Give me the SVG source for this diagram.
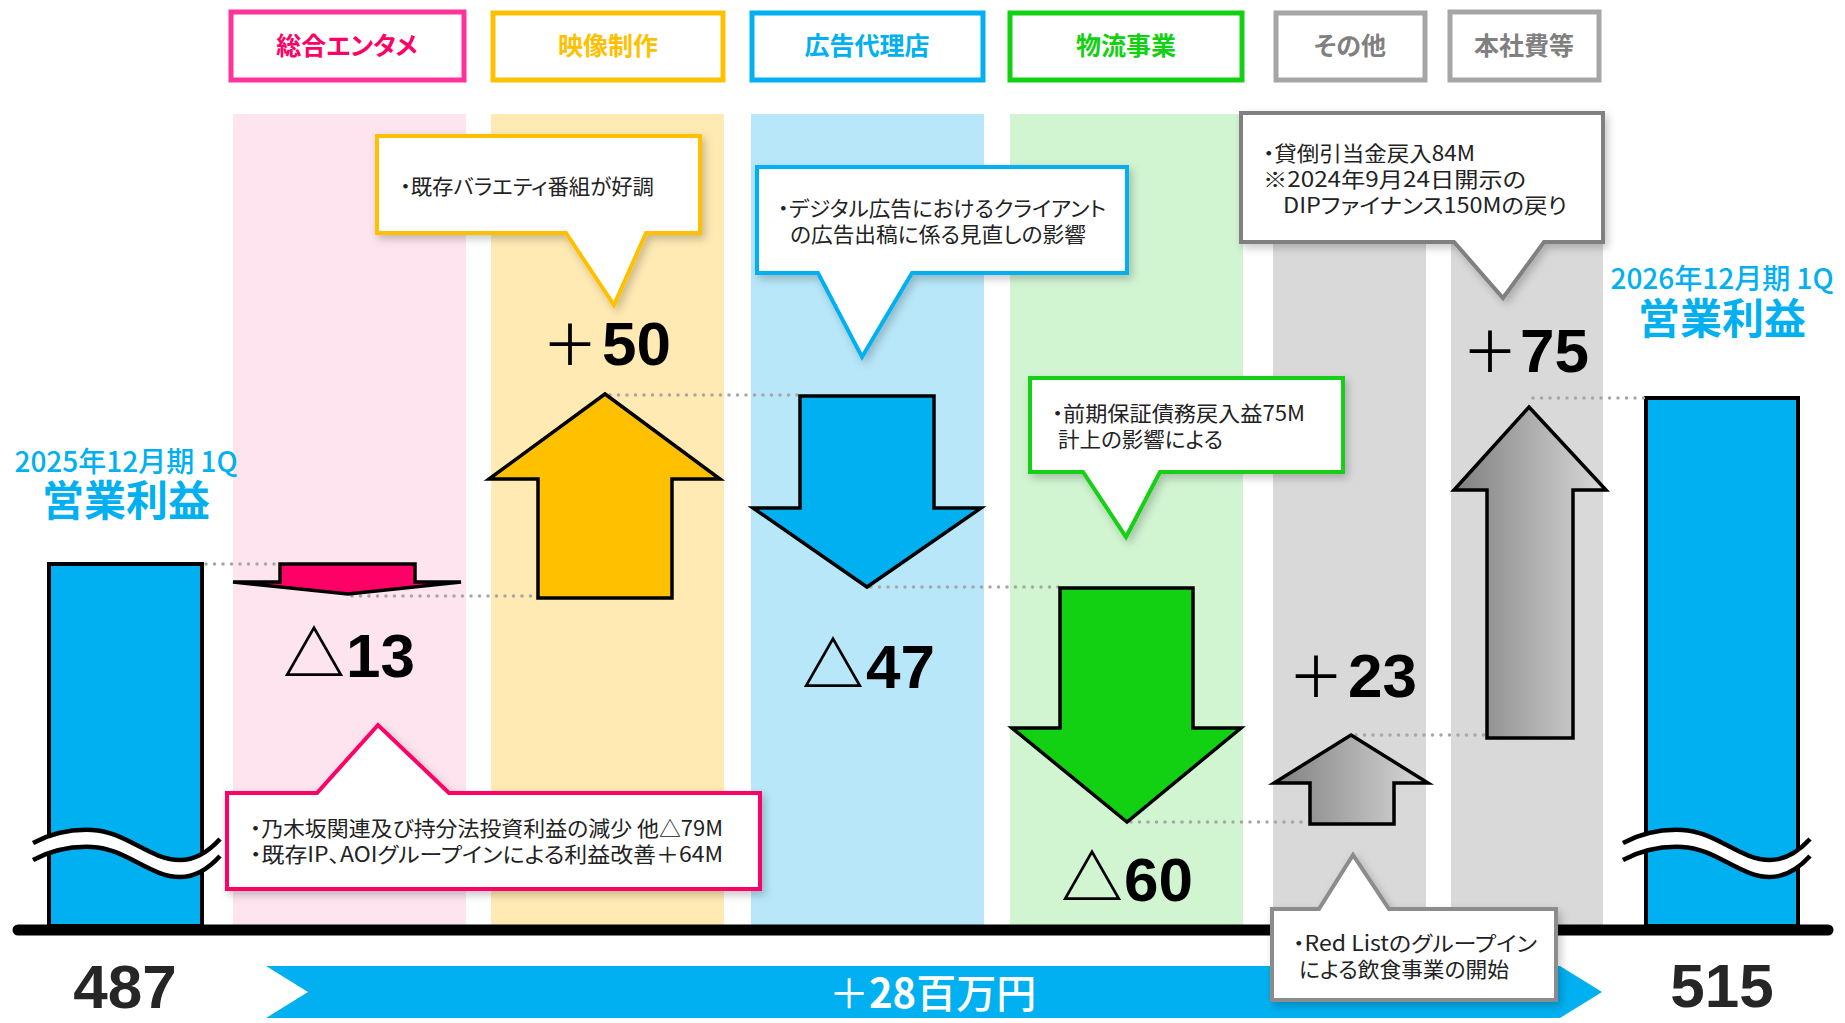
<svg xmlns="http://www.w3.org/2000/svg" width="1845" height="1023" viewBox="0 0 1845 1023">
<defs>
<style>
.cj{font-family:'Noto Sans CJK JP','Noto Sans',sans-serif;font-feature-settings:"palt" 1}
.num{font-family:'Liberation Sans','Noto Sans CJK JP',sans-serif;font-weight:700;font-size:62px;fill:#000}
.sym{font-family:'Noto Sans CJK JP',sans-serif;font-weight:400}
.tri{font-family:'Noto Sans CJK JP',sans-serif;font-weight:700}
.arrow{stroke:#000;stroke-width:3.5;stroke-linejoin:miter}
.dot{stroke:#A6A6A6;stroke-width:3.5;stroke-linecap:round;stroke-dasharray:0 8.5;fill:none}
.call{fill:#fff;stroke-width:4;filter:url(#sh)}
.ct{font-size:21px;fill:#222}
.hdr{fill:#fff;stroke-width:5}
.ht{font-weight:700;font-size:25px;text-anchor:middle}
.bar{fill:#00B0F0;stroke:#000;stroke-width:4}
.wl{fill:none;stroke:#000;stroke-width:4.5}
</style>
<filter id="sh" x="-10%" y="-10%" width="125%" height="140%"><feDropShadow dx="3" dy="4" stdDeviation="4" flood-color="#000" flood-opacity="0.22"/></filter>
<linearGradient id="gg" x1="0" y1="0" x2="1" y2="0"><stop offset="0" stop-color="#7f7f7f"/><stop offset="1" stop-color="#dadada"/></linearGradient>
</defs>
<rect width="1845" height="1023" fill="#fff"/>

<g id="columns">
<rect x="233" y="114" width="233" height="812" fill="#FDE4EF"/>
<rect x="491" y="114" width="233" height="812" fill="#FFEAB3"/>
<rect x="751" y="114" width="233" height="812" fill="#B7E7F9"/>
<rect x="1010" y="114" width="233" height="812" fill="#D1F4D1"/>
<rect x="1273" y="114" width="153" height="812" fill="#D9D9D9"/>
<rect x="1451" y="114" width="152" height="812" fill="#D9D9D9"/>
</g>

<g id="bar-2025">
<rect class="bar" x="49" y="564" width="153" height="362"/>
<path d="M33,843 C50,834 70,829 92,830 C125,831 150,860 180,860 C197,860 210,850 220,839 L220,856 C210,867 197,877 180,877 C150,877 125,848 92,847 C70,846 50,851 33,860 Z" fill="#fff"/>
<path class="wl" d="M33,843 C50,834 70,829 92,830 C125,831 150,860 180,860 C197,860 210,850 220,839"/>
<path class="wl" d="M33,860 C50,851 70,846 92,847 C125,848 150,877 180,877 C197,877 210,867 220,856"/>
</g>

<g id="bar-2026">
<rect class="bar" x="1646" y="398" width="152" height="528"/>
<g transform="translate(1590,0)">
<path d="M33,843 C50,834 70,829 92,830 C125,831 150,860 180,860 C197,860 210,850 220,839 L220,856 C210,867 197,877 180,877 C150,877 125,848 92,847 C70,846 50,851 33,860 Z" fill="#fff"/>
<path class="wl" d="M33,843 C50,834 70,829 92,830 C125,831 150,860 180,860 C197,860 210,850 220,839"/>
<path class="wl" d="M33,860 C50,851 70,846 92,847 C125,848 150,877 180,877 C197,877 210,867 220,856"/>
</g>
</g>

<line id="axis" x1="18" y1="930" x2="1828" y2="930" stroke="#000" stroke-width="11" stroke-linecap="round"/>

<g id="connectors">
<line class="dot" x1="206" y1="564" x2="280" y2="564"/>
<line class="dot" x1="352" y1="596" x2="537" y2="596"/>
<line class="dot" x1="610" y1="395" x2="800" y2="395"/>
<line class="dot" x1="871" y1="587" x2="1059" y2="587"/>
<line class="dot" x1="1131" y1="822" x2="1309" y2="822"/>
<line class="dot" x1="1356" y1="735" x2="1486" y2="735"/>
<line class="dot" x1="1533" y1="398" x2="1644" y2="398"/>
</g>

<g id="arrow-entame"><path class="arrow" fill="#FF0066" d="M280,564 H415 V582 H461 L348,594 L233,582 H280 Z"/></g>
<g id="arrow-eizo"><path class="arrow" fill="#FFC000" d="M605,394 L720,479 H672 V598 H538 V479 H489 Z"/></g>
<g id="arrow-kokoku"><path class="arrow" fill="#00B0F0" d="M800,396 H934 V508 H981 L867,587 L753,508 H800 Z"/></g>
<g id="arrow-butsuryu"><path class="arrow" fill="#12D012" d="M1060,588 H1193 V728 H1241 L1127,822 L1012,728 H1060 Z"/></g>
<g id="arrow-sonota"><path class="arrow" fill="url(#gg)" d="M1351,735 L1428,783 H1394 V824 H1310 V783 H1274 Z"/></g>
<g id="arrow-honsha"><path class="arrow" fill="url(#gg)" d="M1529,407 L1606,490 H1573 V738 H1487 V490 H1454 Z"/></g>

<g id="values">
<text class="num" y="677"><tspan class="tri" x="283">△</tspan><tspan x="346">13</tspan></text>
<text class="num" y="365"><tspan class="sym" font-size="56" x="542">＋</tspan><tspan x="602">50</tspan></text>
<text class="num" y="688"><tspan class="tri" x="802">△</tspan><tspan x="866">47</tspan></text>
<text class="num" y="901"><tspan class="tri" x="1061">△</tspan><tspan x="1124">60</tspan></text>
<text class="num" y="697"><tspan class="sym" font-size="56" x="1288">＋</tspan><tspan x="1348">23</tspan></text>
<text class="num" y="372"><tspan class="sym" font-size="56" x="1462">＋</tspan><tspan x="1520">75</tspan></text>
<text class="num" x="125" y="1008" text-anchor="middle" style="fill:#262626">487</text>
<text class="num" x="1722" y="1007" text-anchor="middle" style="fill:#262626">515</text>
</g>

<g id="title-2025" class="cj" fill="#00B0F0" text-anchor="middle">
<text x="126" y="472" font-size="28" font-weight="500">2025年12月期 1Q</text>
<text x="126" y="516" font-size="42" font-weight="700">営業利益</text>
</g>
<g id="title-2026" class="cj" fill="#00B0F0" text-anchor="middle">
<text x="1722" y="289" font-size="28" font-weight="500">2026年12月期 1Q</text>
<text x="1722" y="334" font-size="42" font-weight="700">営業利益</text>
</g>

<g id="total-band">
<path d="M266,966 H1560 L1602,992 L1560,1018 H266 L308,992 Z" fill="#00B0F0"/>
<text class="cj" x="829" y="1008" font-size="40" fill="#fff"><tspan font-weight="400">＋</tspan><tspan font-weight="700">28</tspan><tspan font-weight="500">百万円</tspan></text>
</g>

<g id="hdr-entame"><rect class="hdr" x="231" y="12" width="233" height="68" stroke="#FF3399"/><text class="cj ht" x="347" y="55" fill="#FF0066">総合エンタメ</text></g>
<g id="hdr-eizo"><rect class="hdr" x="493" y="13" width="230" height="67" stroke="#FFC000"/><text class="cj ht" x="608" y="55" fill="#FFC000">映像制作</text></g>
<g id="hdr-kokoku"><rect class="hdr" x="752" y="13" width="231" height="67" stroke="#00B0F0"/><text class="cj ht" x="867" y="55" fill="#00B0F0">広告代理店</text></g>
<g id="hdr-butsuryu"><rect class="hdr" x="1010" y="13" width="232" height="67" stroke="#12D012"/><text class="cj ht" x="1126" y="55" fill="#12D012">物流事業</text></g>
<g id="hdr-sonota"><rect class="hdr" x="1276" y="13" width="149" height="67" stroke="#A6A6A6"/><text class="cj ht" x="1350" y="55" fill="#808080" font-size="21" font-weight="500">その他</text></g>
<g id="hdr-honsha"><rect class="hdr" x="1450" y="12" width="149" height="68" stroke="#A6A6A6"/><text class="cj ht" x="1524" y="55" fill="#808080" font-size="21" font-weight="500">本社費等</text></g>

<g id="callout-eizo">
<path class="call" stroke="#FFC000" d="M377,136 H700 V233 H646 L614,305 L566,233 H377 Z"/>
<text class="cj ct" x="400" y="194" textLength="254" lengthAdjust="spacingAndGlyphs">・既存バラエティ番組が好調</text>
</g>
<g id="callout-kokoku">
<path class="call" stroke="#00B0F0" d="M757,167 H1127 V273 H912 L862,357 L818,273 H757 Z"/>
<text class="cj ct" x="778" y="216" textLength="328" lengthAdjust="spacingAndGlyphs">・デジタル広告におけるクライアント</text>
<text class="cj ct" x="790" y="242" textLength="296" lengthAdjust="spacingAndGlyphs">の広告出稿に係る見直しの影響</text>
</g>
<g id="callout-butsuryu">
<path class="call" stroke="#12D012" d="M1030,378 H1343 V472 H1160 L1126,537 L1083,472 H1030 Z"/>
<text class="cj ct" x="1052" y="421" textLength="253" lengthAdjust="spacingAndGlyphs">・前期保証債務戻入益75M</text>
<text class="cj ct" x="1058" y="447" textLength="165" lengthAdjust="spacingAndGlyphs">計上の影響による</text>
</g>
<g id="callout-honsha">
<path class="call" stroke="#808080" d="M1241,113 H1603 V242 H1544 L1503,298 L1454,242 H1241 Z"/>
<text class="cj ct" x="1263" y="161" textLength="212" lengthAdjust="spacingAndGlyphs">・貸倒引当金戻入84M</text>
<text class="cj ct" x="1263" y="187" textLength="263" lengthAdjust="spacingAndGlyphs">※2024年9月24日開示の</text>
<text class="cj ct" x="1283" y="213" textLength="284" lengthAdjust="spacingAndGlyphs">DIPファイナンス150Mの戻り</text>
</g>
<g id="callout-entame">
<path class="call" stroke="#FF0066" d="M227,793 H317 L378,725 L449,793 H760 V889 H227 Z"/>
<text class="cj ct" x="250" y="836" textLength="473" lengthAdjust="spacingAndGlyphs">・乃木坂関連及び持分法投資利益の減少 他△79M</text>
<text class="cj ct" x="250" y="862" textLength="473" lengthAdjust="spacingAndGlyphs">・既存IP、AOIグループインによる利益改善＋64M</text>
</g>
<g id="callout-sonota">
<path class="call" stroke="#8C8C8C" d="M1272,909 H1319 L1353,855 L1389,909 H1556 V1000 H1272 Z"/>
<text class="cj ct" x="1293" y="951" textLength="244" lengthAdjust="spacingAndGlyphs">・Red Listのグループイン</text>
<text class="cj ct" x="1299" y="977" textLength="210" lengthAdjust="spacingAndGlyphs">による飲食事業の開始</text>
</g>
</svg>
